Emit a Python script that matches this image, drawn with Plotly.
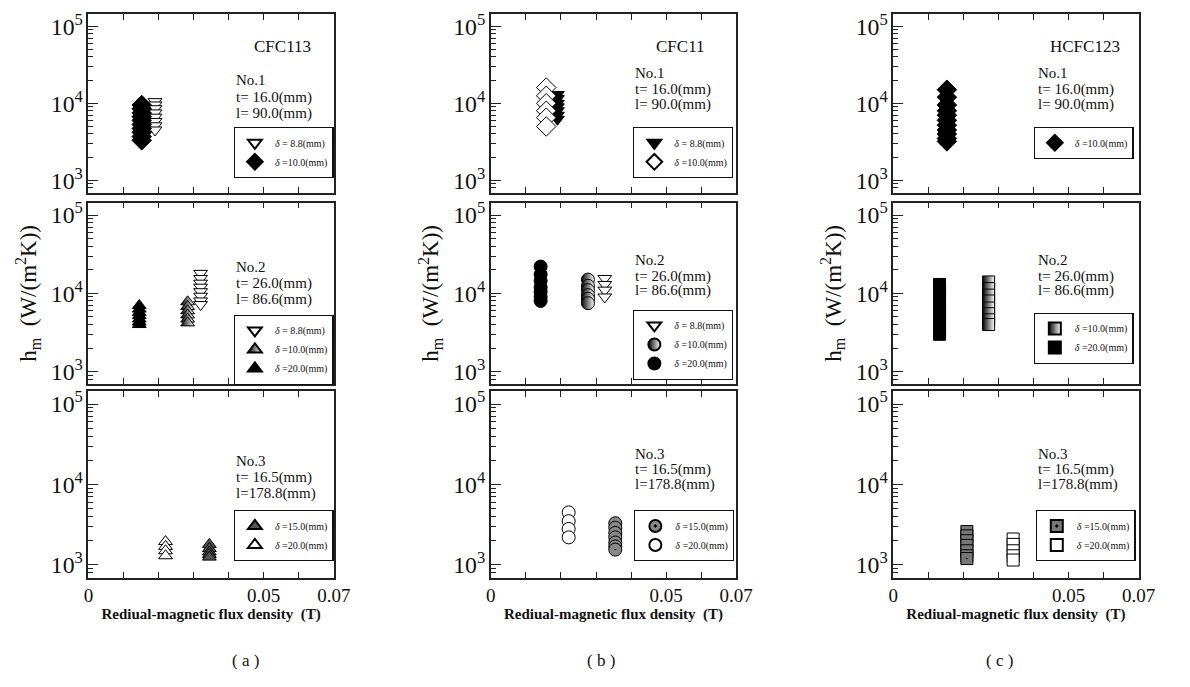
import plotly.graph_objects as go

W, H = 1190, 687

# ---------------- data: h_m (W/(m^2 K)) vs residual flux density B (T) ----------------
# CFC113
a1_d88_B = 0.0190; a1_d88_h = [10500, 9500, 8500, 7500, 6600, 5800, 5100, 4500]
a1_d10_B = 0.0152; a1_d10_h = [9500, 8500, 7500, 6700, 6000, 5300, 4700, 4200, 3700, 3300]
a2_d88_B = 0.0320; a2_d88_h = [18000, 15500, 13500, 12000, 10500, 9200, 8000, 7200]
a2_d10_B = 0.0283; a2_d10_h = [7800, 6800, 6000, 5300, 4700, 4200]
a2_d20_B = 0.0145; a2_d20_h = [7000, 6300, 5700, 5200, 4700, 4300, 4000]
a3_d15_B = 0.0345; a3_d15_h = [1800, 1600, 1450, 1350, 1250]
a3_d20_B = 0.0220; a3_d20_h = [1950, 1700, 1500, 1300]
# CFC11
b1_d88_B = 0.0190; b1_d88_h = [13000, 11500, 10000, 9000, 8000, 7000, 6200]
b1_d10_B = 0.0158; b1_d10_h = [16000, 12500, 10000, 8000, 6500, 5000]
b2_d88_B = 0.0325; b2_d88_h = [15500, 13000, 11000, 9000]
b2_d10_B = 0.0277; b2_d10_h = [15000, 12500, 11000, 9500, 8500, 7500]
b2_d20_B = 0.0142; b2_d20_h = [22000, 17500, 14500, 12000, 10500, 9000, 8000]
b3_d15_B = 0.0355; b3_d15_h = [3300, 2900, 2500, 2200, 1900, 1700, 1550]
b3_d20_B = 0.0222; b3_d20_h = [4500, 3500, 2800, 2200]
# HCFC123
c1_d10_B = 0.0153; c1_d10_h = [15000, 12000, 9500, 8000, 7000, 6000, 5200, 4500, 4000, 3500, 3200]
c2_d10_B = 0.0272; c2_d10_h = [14000, 11500, 9500, 8000, 6500, 5500, 4600, 4000]
c2_d20_B = 0.0132; c2_d20_h = [13000, 11000, 9500, 8200, 7000, 6000, 5200, 4500, 3900, 3400, 3000]
c3_d15_B = 0.0210; c3_d15_h = [2600, 2300, 2000, 1750, 1500, 1300, 1200]
c3_d20_B = 0.0342; c3_d20_h = [2100, 1800, 1500, 1300, 1150]

fluids = ["CFC113", "CFC11", "HCFC123"]
plates = [["No.1", "t= 16.0(mm)", "l= 90.0(mm)"],
          ["No.2", "t= 26.0(mm)", "l= 86.6(mm)"],
          ["No.3", "t= 16.5(mm)", "l=178.8(mm)"]]
panel_labels = ["( a )", "( b )", "( c )"]
x_tickvals = [0, 0.01, 0.02, 0.03, 0.04, 0.05, 0.06, 0.07]
x_ticktext = ["0", "", "", "", "", "0.05", "", "0.07"]
lbl_88 = "<i>δ</i> = 8.8(mm)"
lbl_10 = "<i>δ</i> =10.0(mm)"
lbl_15 = "<i>δ</i> =15.0(mm)"
lbl_20 = "<i>δ</i> =20.0(mm)"

# ---------------- styles ----------------
SERIF = "Liberation Serif"
HALF = dict(type="horizontal", color="white")
styles = {
    "tri_down_open": dict(symbol="triangle-down", color="white", size=12),
    "tri_down_fill": dict(symbol="triangle-down", color="black", size=12),
    "tri_up_fill": dict(symbol="triangle-up", color="black", size=12),
    "tri_up_open": dict(symbol="triangle-up", color="white", size=12),
    "tri_up_half": dict(symbol="triangle-up", color="black", size=12, gradient=HALF),
    "tri_up_dot": dict(symbol="triangle-up", color="#555555", size=12),
    "dia_fill": dict(symbol="diamond", color="black", size=15),
    "dia_open": dict(symbol="diamond", color="white", size=15),
    "cir_fill": dict(symbol="circle", color="black", size=13),
    "cir_open": dict(symbol="circle", color="white", size=13),
    "cir_half": dict(symbol="circle", color="black", size=13, gradient=HALF),
    "cir_dot": dict(symbol="circle-dot", color="#888888", size=13),
    "sq_fill": dict(symbol="square", color="black", size=12),
    "sq_half": dict(symbol="square", color="black", size=12, gradient=HALF),
    "sq_dot": dict(symbol="square-dot", color="#777777", size=12),
    "sq_open": dict(symbol="square", color="white", size=12),
}

# panel -> list of (B, h, label, style) in legend order
panels = {
    (0, 0): [(a1_d88_B, a1_d88_h, lbl_88, "tri_down_open"), (a1_d10_B, a1_d10_h, lbl_10, "dia_fill")],
    (1, 0): [(a2_d88_B, a2_d88_h, lbl_88, "tri_down_open"), (a2_d10_B, a2_d10_h, lbl_10, "tri_up_half"),
             (a2_d20_B, a2_d20_h, lbl_20, "tri_up_fill")],
    (2, 0): [(a3_d15_B, a3_d15_h, lbl_15, "tri_up_dot"), (a3_d20_B, a3_d20_h, lbl_20, "tri_up_open")],
    (0, 1): [(b1_d88_B, b1_d88_h, lbl_88, "tri_down_fill"), (b1_d10_B, b1_d10_h, lbl_10, "dia_open")],
    (1, 1): [(b2_d88_B, b2_d88_h, lbl_88, "tri_down_open"), (b2_d10_B, b2_d10_h, lbl_10, "cir_half"),
             (b2_d20_B, b2_d20_h, lbl_20, "cir_fill")],
    (2, 1): [(b3_d15_B, b3_d15_h, lbl_15, "cir_dot"), (b3_d20_B, b3_d20_h, lbl_20, "cir_open")],
    (0, 2): [(c1_d10_B, c1_d10_h, lbl_10, "dia_fill")],
    (1, 2): [(c2_d10_B, c2_d10_h, lbl_10, "sq_half"), (c2_d20_B, c2_d20_h, lbl_20, "sq_fill")],
    (2, 2): [(c3_d15_B, c3_d15_h, lbl_15, "sq_dot"), (c3_d20_B, c3_d20_h, lbl_20, "sq_open")],
}

# ---------------- layout geometry (window pixels) ----------------
col_x = [(85, 335), (495, 745), (905, 1155)]
row_y = [(10, 190), (200, 383), (390, 578)]
legend_pos = {(0, 0): (233, 124), (1, 0): (233, 313), (2, 0): (233, 510),
              (0, 1): (640, 124), (1, 1): (640, 308), (2, 1): (641, 510),
              (0, 2): (1048, 124), (1, 2): (1048, 311), (2, 2): (1050, 510)}
text_pos = {0: [(233, 77), (233, 94), (233, 110)],
            1: [(640, 70), (640, 86), (640, 101)],
            2: [(1050, 70), (1050, 86), (1050, 101)]}
text_dy = [0, 188, 383]
LEG_W, LEG_ROW, LEG_PAD = 98, 19, 9

def px(x):
    return x / W

def py(y):
    return 1 - y / H

fig = go.Figure()
layout = {}
annotations = []
shapes = []

for r in range(3):
    for c in range(3):
        k = r * 3 + c + 1
        xa = "x" if k == 1 else f"x{k}"
        ya = "y" if k == 1 else f"y{k}"
        lg = "legend" if k == 1 else f"legend{k}"
        for B, h, lbl, st in panels[(r, c)]:
            s = styles[st]
            fig.add_trace(go.Scatter(
                x=[B] * len(h), y=h, mode="markers", name=lbl,
                xaxis=xa, yaxis=ya, legend=lg,
                marker=dict(symbol=s["symbol"], color=s["color"], size=s["size"],
                            gradient=s.get("gradient"),
                            line=dict(color="black", width=1))))
        axis_common = dict(showline=True, linecolor="#222222", linewidth=1.5, mirror=True,
                           showgrid=False, zeroline=False, ticks="inside",
                           tickcolor="#222222", tickwidth=1.3,
                           tickfont=dict(family=SERIF, size=19, color="#111111"))
        xk = "xaxis" if k == 1 else f"xaxis{k}"
        yk = "yaxis" if k == 1 else f"yaxis{k}"
        layout[xk] = dict(axis_common, domain=[px(col_x[c][0]), px(col_x[c][1])],
                          range=[0, 0.07], anchor=ya, tickmode="array",
                          tickvals=x_tickvals, ticktext=x_ticktext,
                          ticklen=6, mirror="allticks", showticklabels=(r == 2))
        if r == 2:
            layout[xk]["title"] = dict(text="<b>Rediual-magnetic flux density  (T)</b>",
                                       font=dict(family=SERIF, size=15, color="#111111"),
                                       standoff=2)
        layout[yk] = dict(axis_common, domain=[py(row_y[r][1]), py(row_y[r][0])],
                          type="log", range=[2.84, 5.16], anchor=xa,
                          tick0=0, dtick=1, exponentformat="power", showexponent="all",
                          ticklen=10,
                          minor=dict(ticks="inside", ticklen=5, dtick="D1",
                                     tickwidth=1.2, tickcolor="#222222", showgrid=False))
        if r == 1:
            layout[yk]["title"] = dict(text="h<sub>m</sub>  (W/(m<sup>2</sup>K))",
                                       font=dict(family=SERIF, size=23, color="#111111"),
                                       standoff=8)
        lx, ly = legend_pos[(r, c)]
        n = len(panels[(r, c)])
        layout[lg] = dict(x=px(lx), y=py(ly), xanchor="left", yanchor="top",
                          bgcolor="white", bordercolor="#111111", borderwidth=1.2,
                          font=dict(family=SERIF, size=10, color="#111111"),
                          tracegroupgap=0, itemwidth=30, itemsizing="constant")
        lh = LEG_PAD + LEG_ROW * n
        # drop shadow behind each legend box
        shapes.append(dict(type="rect", xref="paper", yref="paper",
                           x0=px(lx + 3), x1=px(lx + LEG_W + 3),
                           y0=py(ly + lh + 3), y1=py(ly + 3),
                           fillcolor="#111111", line=dict(width=0), layer="above"))
        # plate annotation text
        for line, (tx, ty) in zip(plates[r], text_pos[c]):
            annotations.append(dict(x=px(tx), y=py(ty + text_dy[r]), xref="paper", yref="paper",
                                    text=line, showarrow=False, xanchor="left", yanchor="middle",
                                    font=dict(family=SERIF, size=15, color="#111111")))

fluid_x = [283, 688, 1100]
for c in range(3):
    annotations.append(dict(x=px(fluid_x[c]), y=py(43), xref="paper", yref="paper",
                            text=fluids[c], showarrow=False, xanchor="center", yanchor="middle",
                            font=dict(family=SERIF, size=17, color="#111111")))
label_x = [245, 607, 1013]
for c in range(3):
    annotations.append(dict(x=px(label_x[c]), y=py(661), xref="paper", yref="paper",
                            text=panel_labels[c], showarrow=False, xanchor="center", yanchor="middle",
                            font=dict(family=SERIF, size=17, color="#111111")))

fig.update_layout(**layout)
fig.update_layout(width=W, height=H, margin=dict(l=0, r=0, t=0, b=0),
                  paper_bgcolor="white", plot_bgcolor="white",
                  showlegend=True, annotations=annotations, shapes=shapes)
fig.write_html("out.html", config={"displayModeBar": False},
               post_script="document.body.style.margin='0';document.body.style.overflow='hidden';")
